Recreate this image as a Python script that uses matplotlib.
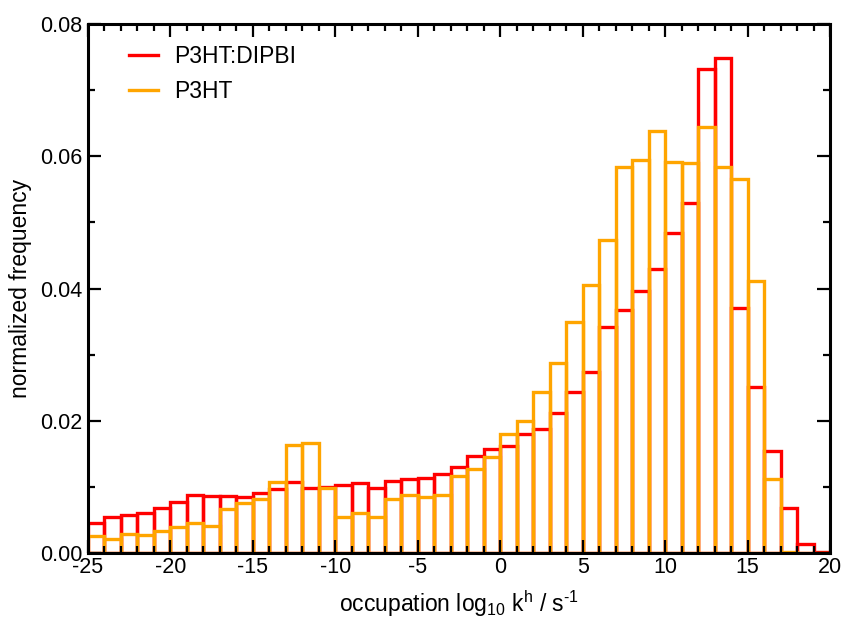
import numpy as np
import matplotlib
matplotlib.use("Agg")
import matplotlib.pyplot as plt
from matplotlib.ticker import MultipleLocator, FormatStrFormatter

plt.rcParams['font.family'] = ['Liberation Sans', 'DejaVu Sans']
plt.rcParams['mathtext.fontset'] = 'custom'
plt.rcParams['mathtext.rm'] = 'Liberation Sans'
plt.rcParams['mathtext.default'] = 'regular'
plt.rcParams['axes.unicode_minus'] = False

# bin left edges (log10 k^h, width 1)
bin_edges = list(range(-25, 20))

# normalized frequency per bin
p3ht_dipbi = [
    0.0045, 0.0054, 0.0057, 0.0061, 0.0068, 0.0077, 0.0087, 0.0086, 0.0086, 0.0085,
    0.0091, 0.0097, 0.0107, 0.0099, 0.0100, 0.0103, 0.0106, 0.0098, 0.0109, 0.0112,
    0.0114, 0.0120, 0.0130, 0.0146, 0.0157, 0.0162, 0.0180, 0.0188, 0.0212, 0.0243,
    0.0274, 0.0342, 0.0367, 0.0396, 0.0429, 0.0484, 0.0530, 0.0732, 0.0749, 0.0370,
    0.0251, 0.0155, 0.0068, 0.0013, 0.0001,
]
p3ht = [
    0.0025, 0.0021, 0.0029, 0.0027, 0.0033, 0.0040, 0.0045, 0.0041, 0.0067, 0.0076,
    0.0082, 0.0108, 0.0163, 0.0166, 0.0099, 0.0055, 0.0060, 0.0055, 0.0082, 0.0088,
    0.0085, 0.0087, 0.0117, 0.0127, 0.0145, 0.0180, 0.0199, 0.0243, 0.0287, 0.0350,
    0.0406, 0.0474, 0.0584, 0.0594, 0.0638, 0.0592, 0.0590, 0.0644, 0.0583, 0.0566,
    0.0412, 0.0112, 0.0002, 0.0, 0.0,
]
labels = ["P3HT:DIPBI", "P3HT"]
colors = ["#FF0000", "#FFA500"]

fig = plt.figure(figsize=(8.48, 6.21), dpi=100)
ax = fig.add_axes([88 / 848, 68 / 621, 742 / 848, 529 / 621])

lw = 2.4
for vals, col, lab in zip([p3ht_dipbi, p3ht], colors, labels):
    ax.bar(bin_edges, vals, width=1.0, align='edge', fill=False,
           edgecolor=col, linewidth=lw, joinstyle='miter')
    ax.plot([], [], color=col, linewidth=lw, label=lab)

ax.set_xlim(-25, 20)
ax.set_ylim(0, 0.08)
ax.xaxis.set_major_locator(MultipleLocator(5))
ax.xaxis.set_minor_locator(MultipleLocator(1))
ax.yaxis.set_major_locator(MultipleLocator(0.02))
ax.yaxis.set_minor_locator(MultipleLocator(0.01))
ax.yaxis.set_major_formatter(FormatStrFormatter('%.2f'))

ax.tick_params(which='both', direction='in', top=True, right=True,
               labelsize=15.5, width=1.6, color='black')
ax.tick_params(which='major', length=9.5)
ax.tick_params(which='minor', length=5)
ax.tick_params(axis='x', pad=3)
ax.tick_params(axis='y', pad=4)
for sp in ax.spines.values():
    sp.set_linewidth(2.2)

ax.set_xlabel('occupation log$_{10}$ k$^{h}$ / s$^{\\text{-1}}$', fontsize=16.5, labelpad=7)
ax.set_ylabel('normalized frequency', fontsize=16.5, labelpad=6)

ax.legend(loc='upper left', bbox_to_anchor=(0.043, 0.978), frameon=False,
          fontsize=16.5, handlelength=1.25, handletextpad=0.7, labelspacing=0.55,
          borderaxespad=0)

fig.savefig('out.png', dpi=100)
